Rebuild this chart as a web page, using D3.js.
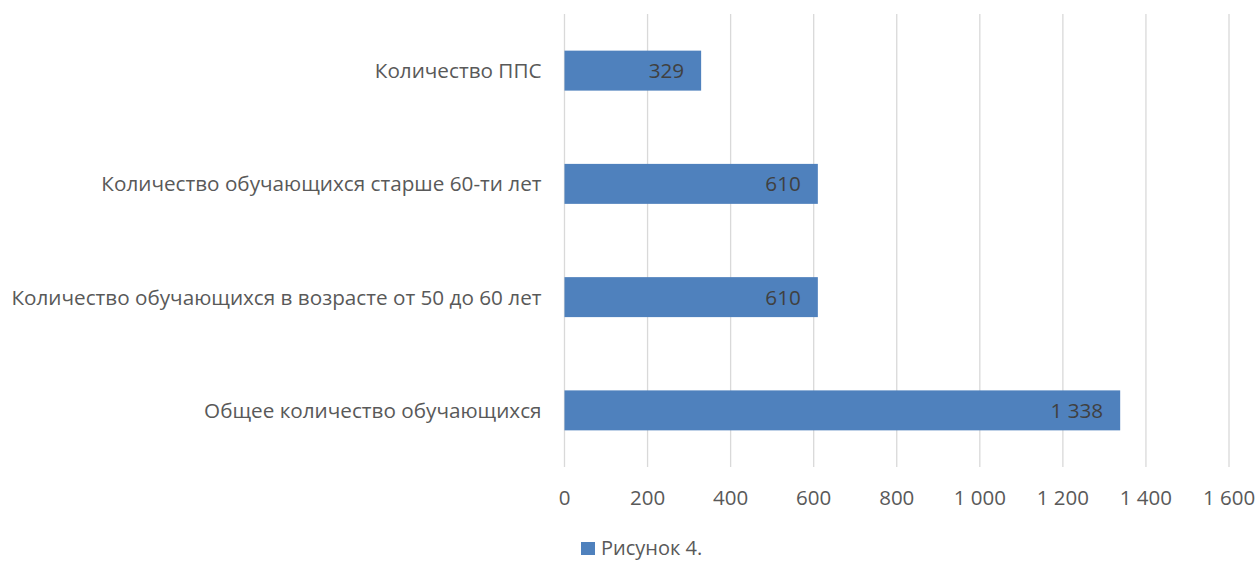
<!DOCTYPE html>
<html>
<head>
<meta charset="utf-8">
<script src="https://cdn.jsdelivr.net/npm/d3@7"></script>
<style>
  body { margin: 0; background: #fff; overflow: hidden; }
  text { font-family: "Open Sans", sans-serif; }
</style>
</head>
<body>
<div class="chart"></div>
<script>
// data
let categories = [
  "Количество ППС",
  "Количество обучающихся старше 60-ти лет",
  "Количество обучающихся в возрасте от 50 до 60 лет",
  "Общее количество обучающихся"
];
let values = [329, 610, 610, 1338];
let xTicks = [0, 200, 400, 600, 800, 1000, 1200, 1400, 1600];
let seriesName = "Рисунок 4.";

let W = 1257, H = 561;
let plot = {left: 564.5, right: 1229, top: 14, bottom: 467};

let fmt = v => d3.format(",")(v).replace(/,/g, " ");

let svg = d3.select(".chart")
  .append("svg")
  .attr("width", W)
  .attr("height", H);

let x = d3.scaleLinear()
  .domain([0, 1600])
  .range([plot.left, plot.right]);

let y = d3.scaleBand()
  .domain(categories)
  .range([plot.top, plot.bottom])
  .paddingInner(0.647)
  .paddingOuter(0.3235);

// vertical gridlines
svg.append("g")
  .selectAll("line")
  .data(xTicks)
  .enter().append("line")
  .attr("x1", d => x(d)).attr("x2", d => x(d))
  .attr("y1", plot.top).attr("y2", plot.bottom)
  .attr("stroke", "#d9d9d9")
  .attr("stroke-width", 1.3);

// tick labels
svg.append("g")
  .selectAll("text")
  .data(xTicks)
  .enter().append("text")
  .attr("x", d => x(d))
  .attr("y", 505)
  .attr("text-anchor", "middle")
  .attr("fill", "#595959")
  .attr("font-size", 20.5)
  .text(d => fmt(d));

// category labels
svg.append("g")
  .selectAll("text")
  .data(categories)
  .enter().append("text")
  .attr("x", plot.left - 23)
  .attr("y", d => y(d) + y.bandwidth() / 2)
  .attr("dy", "0.36em")
  .attr("text-anchor", "end")
  .attr("fill", "#595959")
  .attr("font-size", 20.7)
  .text(d => d);

// bars
svg.append("g")
  .selectAll("rect")
  .data(values)
  .enter().append("rect")
  .attr("x", x(0))
  .attr("y", (d, i) => y(categories[i]))
  .attr("width", d => x(d) - x(0))
  .attr("height", y.bandwidth())
  .attr("fill", "#4f81bd");

// value labels, inside end
svg.append("g")
  .selectAll("text")
  .data(values)
  .enter().append("text")
  .attr("x", d => x(d) - 17)
  .attr("y", (d, i) => y(categories[i]) + y.bandwidth() / 2)
  .attr("dy", "0.36em")
  .attr("text-anchor", "end")
  .attr("fill", "#404040")
  .attr("font-size", 20.7)
  .text(d => fmt(d));

// legend
let legend = svg.append("g");
legend.append("rect")
  .attr("x", 581).attr("y", 542)
  .attr("width", 14).attr("height", 13)
  .attr("fill", "#4f81bd");
legend.append("text")
  .attr("x", 601).attr("y", 555)
  .attr("fill", "#595959")
  .attr("font-size", 20)
  .text(seriesName);
</script>
</body>
</html>
